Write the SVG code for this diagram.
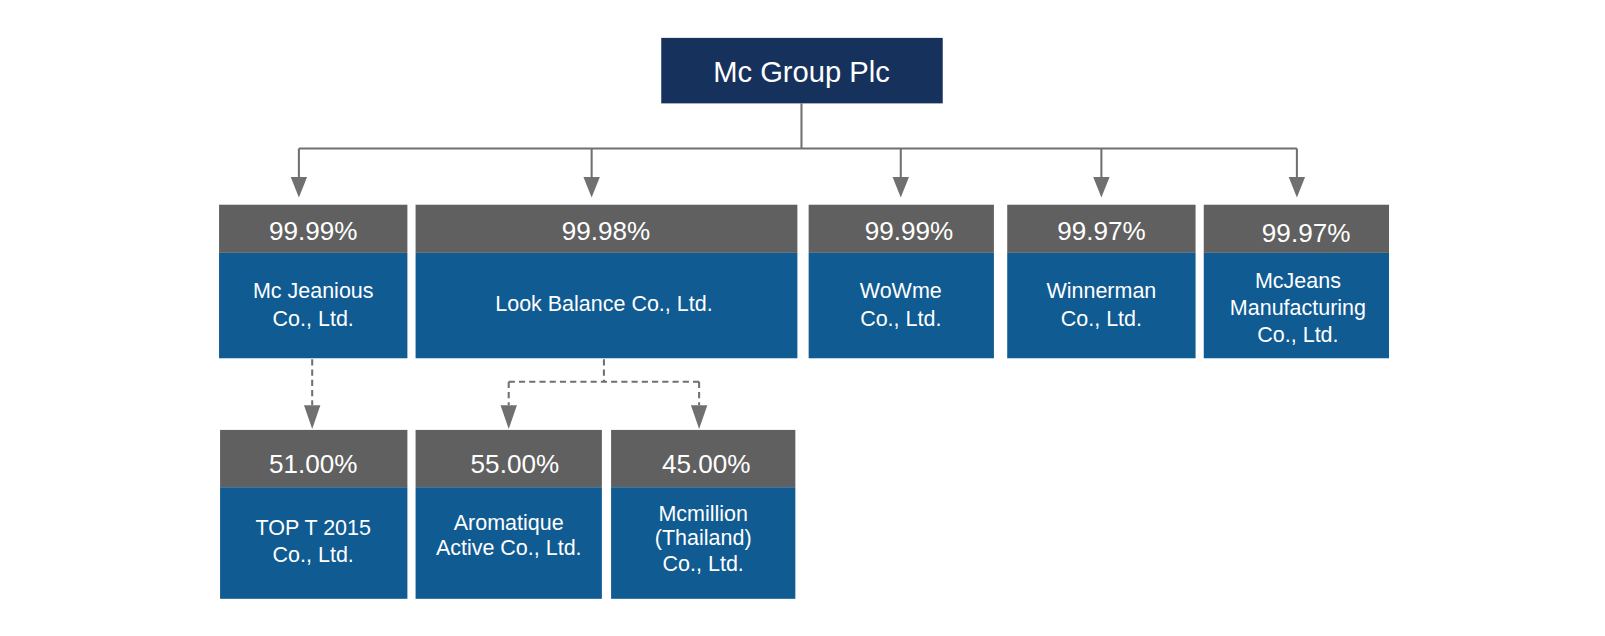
<svg xmlns="http://www.w3.org/2000/svg" width="1605" height="636" viewBox="0 0 1605 636">
<style>
.hd{fill:#606060}
.bd{fill:#0F5B92}
.t{fill:#fff;font-family:"Liberation Sans",Arial,sans-serif;text-anchor:middle}
.p{font-size:25.5px}
.n{font-size:21px}
.ln{fill:none;stroke:#707070;stroke-width:2}
.ds{fill:none;stroke:#707070;stroke-width:2;stroke-dasharray:6,4}
</style>
<rect width="1605" height="636" fill="#fff"/>
<g transform="scale(1.0236)">
<g id="connectors">
<path class="ln" d="M783,101 V145 M292,145 H1267"/>
<path class="ln" d="M292,145 V174 M578,145 V174 M880,145 V174 M1076,145 V174 M1267,145 V174"/>
<path class="ds" d="M305,351 V396"/>
<path class="ds" d="M590,351 V373 M497,373 H683 M497,373 V396 M683,373 V396"/>
<g fill="#707070">
<path d="M284,173 L300,173 L292,193 Z"/>
<path d="M570,173 L586,173 L578,193 Z"/>
<path d="M872,173 L888,173 L880,193 Z"/>
<path d="M1068,173 L1084,173 L1076,193 Z"/>
<path d="M1259,173 L1275,173 L1267,193 Z"/>
<path d="M297,396 L313,396 L305,419 Z"/>
<path d="M489,396 L505,396 L497,419 Z"/>
<path d="M675,396 L691,396 L683,419 Z"/>
</g>
</g>
<g id="mcgroup">
<rect x="646" y="37" width="275" height="64" fill="#16325C"/>
<text class="t" x="783" y="80" font-size="28.5">Mc Group Plc</text>
</g>
<g id="mcjeanious">
<rect class="hd" x="214" y="200" width="184" height="47"/>
<rect class="bd" x="214" y="247" width="184" height="103"/>
<text class="t p" x="306" y="234">99.99%</text>
<text class="t n" x="306" y="291">Mc Jeanious</text>
<text class="t n" x="306" y="318">Co., Ltd.</text>
</g>
<g id="lookbalance">
<rect class="hd" x="406" y="200" width="373" height="47"/>
<rect class="bd" x="406" y="247" width="373" height="103"/>
<text class="t p" x="592" y="234">99.98%</text>
<text class="t n" x="590" y="304">Look Balance Co., Ltd.</text>
</g>
<g id="wowme">
<rect class="hd" x="790" y="200" width="181" height="47"/>
<rect class="bd" x="790" y="247" width="181" height="103"/>
<text class="t p" x="888" y="234">99.99%</text>
<text class="t n" x="880" y="291">WoWme</text>
<text class="t n" x="880" y="318">Co., Ltd.</text>
</g>
<g id="winnerman">
<rect class="hd" x="984" y="200" width="184" height="47"/>
<rect class="bd" x="984" y="247" width="184" height="103"/>
<text class="t p" x="1076" y="234">99.97%</text>
<text class="t n" x="1076" y="291">Winnerman</text>
<text class="t n" x="1076" y="318">Co., Ltd.</text>
</g>
<g id="mcjeans">
<rect class="hd" x="1176" y="200" width="181" height="47"/>
<rect class="bd" x="1176" y="247" width="181" height="103"/>
<text class="t p" x="1276" y="236">99.97%</text>
<text class="t n" x="1268" y="281">McJeans</text>
<text class="t n" x="1268" y="308">Manufacturing</text>
<text class="t n" x="1268" y="334">Co., Ltd.</text>
</g>
<g id="topt2015">
<rect class="hd" x="215" y="420" width="183" height="56"/>
<rect class="bd" x="215" y="476" width="183" height="109"/>
<text class="t p" x="306" y="462">51.00%</text>
<text class="t n" x="306" y="523">TOP T 2015</text>
<text class="t n" x="306" y="549">Co., Ltd.</text>
</g>
<g id="aromatique">
<rect class="hd" x="406" y="420" width="182" height="56"/>
<rect class="bd" x="406" y="476" width="182" height="109"/>
<text class="t p" x="503" y="462">55.00%</text>
<text class="t n" x="497" y="518">Aromatique</text>
<text class="t n" x="497" y="542">Active Co., Ltd.</text>
</g>
<g id="mcmillion">
<rect class="hd" x="597" y="420" width="180" height="56"/>
<rect class="bd" x="597" y="476" width="180" height="109"/>
<text class="t p" x="690" y="462">45.00%</text>
<text class="t n" x="687" y="509">Mcmillion</text>
<text class="t n" x="687" y="532">(Thailand)</text>
<text class="t n" x="687" y="558">Co., Ltd.</text>
</g>
</g>
</svg>
